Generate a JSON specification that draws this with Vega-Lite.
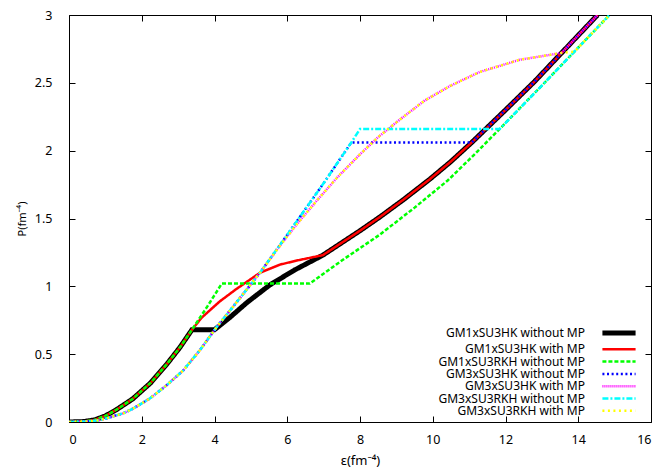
{
  "$schema": "https://vega.github.io/schema/vega-lite/v6.json",
  "width": 582,
  "height": 407,
  "autosize": {"type": "none"},
  "padding": {"left": 69, "top": 15, "right": 13, "bottom": 53},
  "background": "white",
  "config": {
    "view": {"stroke": "black", "strokeWidth": 1},
    "font": "Noto Sans",
    "axis": {"domain": false, "grid": false, "tickColor": "black", "tickSize": -6, "tickWidth": 1, "labelFont": "Noto Sans", "labelFontSize": 12.5, "labelColor": "#000", "titleFont": "Noto Sans", "titleColor": "#000", "titleFontWeight": "normal"},
    "legend": {"labelFont": "Noto Sans", "labelFontSize": 12, "labelColor": "#000", "padding": 0}
  },
  "data": {"values": [
    {"s": "GM1xSU3HK without MP", "e": 0, "p": 0},
    {"s": "GM1xSU3HK without MP", "e": 0.4, "p": 0.003},
    {"s": "GM1xSU3HK without MP", "e": 0.7, "p": 0.015},
    {"s": "GM1xSU3HK without MP", "e": 1, "p": 0.045},
    {"s": "GM1xSU3HK without MP", "e": 1.3, "p": 0.09},
    {"s": "GM1xSU3HK without MP", "e": 1.75, "p": 0.17},
    {"s": "GM1xSU3HK without MP", "e": 2.25, "p": 0.29},
    {"s": "GM1xSU3HK without MP", "e": 2.7, "p": 0.43},
    {"s": "GM1xSU3HK without MP", "e": 3.05, "p": 0.55},
    {"s": "GM1xSU3HK without MP", "e": 3.38, "p": 0.68},
    {"s": "GM1xSU3HK without MP", "e": 4.0, "p": 0.68},
    {"s": "GM1xSU3HK without MP", "e": 4.42, "p": 0.77},
    {"s": "GM1xSU3HK without MP", "e": 4.89, "p": 0.88},
    {"s": "GM1xSU3HK without MP", "e": 5.52, "p": 1.01},
    {"s": "GM1xSU3HK without MP", "e": 6.2, "p": 1.12},
    {"s": "GM1xSU3HK without MP", "e": 6.98, "p": 1.23},
    {"s": "GM1xSU3HK without MP", "e": 8, "p": 1.41},
    {"s": "GM1xSU3HK without MP", "e": 8.54, "p": 1.51},
    {"s": "GM1xSU3HK without MP", "e": 9.2, "p": 1.64},
    {"s": "GM1xSU3HK without MP", "e": 9.92, "p": 1.79},
    {"s": "GM1xSU3HK without MP", "e": 10.5, "p": 1.92},
    {"s": "GM1xSU3HK without MP", "e": 11.07, "p": 2.06},
    {"s": "GM1xSU3HK without MP", "e": 12, "p": 2.30},
    {"s": "GM1xSU3HK without MP", "e": 12.8, "p": 2.51},
    {"s": "GM1xSU3HK without MP", "e": 13.54, "p": 2.72},
    {"s": "GM1xSU3HK without MP", "e": 14.53, "p": 3.0},

    {"s": "GM1xSU3HK with MP", "e": 0, "p": 0},
    {"s": "GM1xSU3HK with MP", "e": 0.4, "p": 0.003},
    {"s": "GM1xSU3HK with MP", "e": 0.7, "p": 0.015},
    {"s": "GM1xSU3HK with MP", "e": 1, "p": 0.045},
    {"s": "GM1xSU3HK with MP", "e": 1.3, "p": 0.09},
    {"s": "GM1xSU3HK with MP", "e": 1.75, "p": 0.17},
    {"s": "GM1xSU3HK with MP", "e": 2.25, "p": 0.29},
    {"s": "GM1xSU3HK with MP", "e": 2.7, "p": 0.43},
    {"s": "GM1xSU3HK with MP", "e": 3.05, "p": 0.55},
    {"s": "GM1xSU3HK with MP", "e": 3.38, "p": 0.68},
    {"s": "GM1xSU3HK with MP", "e": 3.65, "p": 0.77},
    {"s": "GM1xSU3HK with MP", "e": 4.15, "p": 0.89},
    {"s": "GM1xSU3HK with MP", "e": 4.6, "p": 0.98},
    {"s": "GM1xSU3HK with MP", "e": 5.25, "p": 1.10},
    {"s": "GM1xSU3HK with MP", "e": 5.8, "p": 1.16},
    {"s": "GM1xSU3HK with MP", "e": 6.26, "p": 1.19},
    {"s": "GM1xSU3HK with MP", "e": 6.98, "p": 1.23},
    {"s": "GM1xSU3HK with MP", "e": 8, "p": 1.41},
    {"s": "GM1xSU3HK with MP", "e": 8.54, "p": 1.51},
    {"s": "GM1xSU3HK with MP", "e": 9.2, "p": 1.64},
    {"s": "GM1xSU3HK with MP", "e": 9.92, "p": 1.79},
    {"s": "GM1xSU3HK with MP", "e": 10.5, "p": 1.92},
    {"s": "GM1xSU3HK with MP", "e": 11.07, "p": 2.06},
    {"s": "GM1xSU3HK with MP", "e": 12, "p": 2.30},
    {"s": "GM1xSU3HK with MP", "e": 12.8, "p": 2.51},
    {"s": "GM1xSU3HK with MP", "e": 13.54, "p": 2.72},
    {"s": "GM1xSU3HK with MP", "e": 14.53, "p": 3.0},

    {"s": "GM1xSU3RKH without MP", "e": 0, "p": 0},
    {"s": "GM1xSU3RKH without MP", "e": 0.4, "p": 0.003},
    {"s": "GM1xSU3RKH without MP", "e": 0.7, "p": 0.015},
    {"s": "GM1xSU3RKH without MP", "e": 1, "p": 0.045},
    {"s": "GM1xSU3RKH without MP", "e": 1.3, "p": 0.09},
    {"s": "GM1xSU3RKH without MP", "e": 1.75, "p": 0.17},
    {"s": "GM1xSU3RKH without MP", "e": 2.25, "p": 0.29},
    {"s": "GM1xSU3RKH without MP", "e": 2.7, "p": 0.43},
    {"s": "GM1xSU3RKH without MP", "e": 3.05, "p": 0.55},
    {"s": "GM1xSU3RKH without MP", "e": 3.38, "p": 0.68},
    {"s": "GM1xSU3RKH without MP", "e": 3.8, "p": 0.85},
    {"s": "GM1xSU3RKH without MP", "e": 4.2, "p": 1.02},
    {"s": "GM1xSU3RKH without MP", "e": 6.62, "p": 1.02},
    {"s": "GM1xSU3RKH without MP", "e": 7.5, "p": 1.19},
    {"s": "GM1xSU3RKH without MP", "e": 8.54, "p": 1.38},
    {"s": "GM1xSU3RKH without MP", "e": 9.5, "p": 1.58},
    {"s": "GM1xSU3RKH without MP", "e": 10.41, "p": 1.78},
    {"s": "GM1xSU3RKH without MP", "e": 11.1, "p": 1.96},
    {"s": "GM1xSU3RKH without MP", "e": 11.84, "p": 2.16},
    {"s": "GM1xSU3RKH without MP", "e": 13, "p": 2.48},
    {"s": "GM1xSU3RKH without MP", "e": 14, "p": 2.76},
    {"s": "GM1xSU3RKH without MP", "e": 14.86, "p": 3.0},

    {"s": "GM3xSU3HK without MP", "e": 0, "p": 0},
    {"s": "GM3xSU3HK without MP", "e": 0.5, "p": 0.004},
    {"s": "GM3xSU3HK without MP", "e": 0.8, "p": 0.012},
    {"s": "GM3xSU3HK without MP", "e": 1, "p": 0.025},
    {"s": "GM3xSU3HK without MP", "e": 1.5, "p": 0.065},
    {"s": "GM3xSU3HK without MP", "e": 1.77, "p": 0.10},
    {"s": "GM3xSU3HK without MP", "e": 2.23, "p": 0.175},
    {"s": "GM3xSU3HK without MP", "e": 2.68, "p": 0.27},
    {"s": "GM3xSU3HK without MP", "e": 3.14, "p": 0.38},
    {"s": "GM3xSU3HK without MP", "e": 3.6, "p": 0.53},
    {"s": "GM3xSU3HK without MP", "e": 4.06, "p": 0.70},
    {"s": "GM3xSU3HK without MP", "e": 4.6, "p": 0.88},
    {"s": "GM3xSU3HK without MP", "e": 5.25, "p": 1.10},
    {"s": "GM3xSU3HK without MP", "e": 6, "p": 1.38},
    {"s": "GM3xSU3HK without MP", "e": 7, "p": 1.76},
    {"s": "GM3xSU3HK without MP", "e": 7.76, "p": 2.06},
    {"s": "GM3xSU3HK without MP", "e": 11.07, "p": 2.06},
    {"s": "GM3xSU3HK without MP", "e": 12, "p": 2.30},
    {"s": "GM3xSU3HK without MP", "e": 12.8, "p": 2.51},
    {"s": "GM3xSU3HK without MP", "e": 13.54, "p": 2.72},
    {"s": "GM3xSU3HK without MP", "e": 14.53, "p": 3.0},

    {"s": "GM3xSU3HK with MP", "e": 0, "p": 0},
    {"s": "GM3xSU3HK with MP", "e": 0.5, "p": 0.004},
    {"s": "GM3xSU3HK with MP", "e": 0.8, "p": 0.012},
    {"s": "GM3xSU3HK with MP", "e": 1, "p": 0.025},
    {"s": "GM3xSU3HK with MP", "e": 1.5, "p": 0.065},
    {"s": "GM3xSU3HK with MP", "e": 1.77, "p": 0.10},
    {"s": "GM3xSU3HK with MP", "e": 2.23, "p": 0.175},
    {"s": "GM3xSU3HK with MP", "e": 2.68, "p": 0.27},
    {"s": "GM3xSU3HK with MP", "e": 3.14, "p": 0.38},
    {"s": "GM3xSU3HK with MP", "e": 3.6, "p": 0.53},
    {"s": "GM3xSU3HK with MP", "e": 4.06, "p": 0.70},
    {"s": "GM3xSU3HK with MP", "e": 4.6, "p": 0.88},
    {"s": "GM3xSU3HK with MP", "e": 5.25, "p": 1.10},
    {"s": "GM3xSU3HK with MP", "e": 5.8, "p": 1.30},
    {"s": "GM3xSU3HK with MP", "e": 6.3, "p": 1.47},
    {"s": "GM3xSU3HK with MP", "e": 6.84, "p": 1.64},
    {"s": "GM3xSU3HK with MP", "e": 7.4, "p": 1.81},
    {"s": "GM3xSU3HK with MP", "e": 7.99, "p": 1.97},
    {"s": "GM3xSU3HK with MP", "e": 8.5, "p": 2.10},
    {"s": "GM3xSU3HK with MP", "e": 9.1, "p": 2.23},
    {"s": "GM3xSU3HK with MP", "e": 9.78, "p": 2.37},
    {"s": "GM3xSU3HK with MP", "e": 10.5, "p": 2.48},
    {"s": "GM3xSU3HK with MP", "e": 11.29, "p": 2.58},
    {"s": "GM3xSU3HK with MP", "e": 12.39, "p": 2.67},
    {"s": "GM3xSU3HK with MP", "e": 13.54, "p": 2.72},
    {"s": "GM3xSU3HK with MP", "e": 14.53, "p": 3.0},

    {"s": "GM3xSU3RKH without MP", "e": 0, "p": 0},
    {"s": "GM3xSU3RKH without MP", "e": 0.5, "p": 0.004},
    {"s": "GM3xSU3RKH without MP", "e": 0.8, "p": 0.012},
    {"s": "GM3xSU3RKH without MP", "e": 1, "p": 0.025},
    {"s": "GM3xSU3RKH without MP", "e": 1.5, "p": 0.065},
    {"s": "GM3xSU3RKH without MP", "e": 1.77, "p": 0.10},
    {"s": "GM3xSU3RKH without MP", "e": 2.23, "p": 0.175},
    {"s": "GM3xSU3RKH without MP", "e": 2.68, "p": 0.27},
    {"s": "GM3xSU3RKH without MP", "e": 3.14, "p": 0.38},
    {"s": "GM3xSU3RKH without MP", "e": 3.6, "p": 0.53},
    {"s": "GM3xSU3RKH without MP", "e": 4.06, "p": 0.70},
    {"s": "GM3xSU3RKH without MP", "e": 4.6, "p": 0.88},
    {"s": "GM3xSU3RKH without MP", "e": 5.25, "p": 1.10},
    {"s": "GM3xSU3RKH without MP", "e": 6, "p": 1.38},
    {"s": "GM3xSU3RKH without MP", "e": 7, "p": 1.76},
    {"s": "GM3xSU3RKH without MP", "e": 7.76, "p": 2.06},
    {"s": "GM3xSU3RKH without MP", "e": 8.0, "p": 2.16},
    {"s": "GM3xSU3RKH without MP", "e": 11.84, "p": 2.16},
    {"s": "GM3xSU3RKH without MP", "e": 13, "p": 2.48},
    {"s": "GM3xSU3RKH without MP", "e": 14, "p": 2.76},
    {"s": "GM3xSU3RKH without MP", "e": 14.86, "p": 3.0},

    {"s": "GM3xSU3RKH with MP", "e": 0, "p": 0},
    {"s": "GM3xSU3RKH with MP", "e": 0.5, "p": 0.004},
    {"s": "GM3xSU3RKH with MP", "e": 0.8, "p": 0.012},
    {"s": "GM3xSU3RKH with MP", "e": 1, "p": 0.025},
    {"s": "GM3xSU3RKH with MP", "e": 1.5, "p": 0.065},
    {"s": "GM3xSU3RKH with MP", "e": 1.77, "p": 0.10},
    {"s": "GM3xSU3RKH with MP", "e": 2.23, "p": 0.175},
    {"s": "GM3xSU3RKH with MP", "e": 2.68, "p": 0.27},
    {"s": "GM3xSU3RKH with MP", "e": 3.14, "p": 0.38},
    {"s": "GM3xSU3RKH with MP", "e": 3.6, "p": 0.53},
    {"s": "GM3xSU3RKH with MP", "e": 4.06, "p": 0.70},
    {"s": "GM3xSU3RKH with MP", "e": 4.6, "p": 0.88},
    {"s": "GM3xSU3RKH with MP", "e": 5.25, "p": 1.10},
    {"s": "GM3xSU3RKH with MP", "e": 5.8, "p": 1.30},
    {"s": "GM3xSU3RKH with MP", "e": 6.3, "p": 1.47},
    {"s": "GM3xSU3RKH with MP", "e": 6.84, "p": 1.64},
    {"s": "GM3xSU3RKH with MP", "e": 7.4, "p": 1.81},
    {"s": "GM3xSU3RKH with MP", "e": 7.99, "p": 1.97},
    {"s": "GM3xSU3RKH with MP", "e": 8.5, "p": 2.10},
    {"s": "GM3xSU3RKH with MP", "e": 9.1, "p": 2.23},
    {"s": "GM3xSU3RKH with MP", "e": 9.78, "p": 2.37},
    {"s": "GM3xSU3RKH with MP", "e": 10.5, "p": 2.48},
    {"s": "GM3xSU3RKH with MP", "e": 11.29, "p": 2.58},
    {"s": "GM3xSU3RKH with MP", "e": 12.39, "p": 2.67},
    {"s": "GM3xSU3RKH with MP", "e": 13.54, "p": 2.72},
    {"s": "GM3xSU3RKH with MP", "e": 13.9, "p": 2.73},
    {"s": "GM3xSU3RKH with MP", "e": 14.86, "p": 3.0}
  ]},
  "layer": [
    {
      "mark": {"type": "line", "clip": true, "strokeCap": "butt"},
      "encoding": {
        "x": {"field": "e", "type": "quantitative", "scale": {"domain": [0, 16], "nice": false, "zero": false},
              "axis": {"orient": "bottom", "values": [0, 2, 4, 6, 8, 10, 12, 14, 16], "format": "~g", "labelPadding": 17, "title": "ε(fm⁻⁴)", "titleFontSize": 13, "titleX": 291, "titleY": 38, "titleAlign": "center", "titleBaseline": "middle"}},
        "y": {"field": "p", "type": "quantitative", "scale": {"domain": [0, 3], "nice": false, "zero": false},
              "axis": {"orient": "left", "values": [0, 0.5, 1, 1.5, 2, 2.5, 3], "format": "~g", "labelPadding": 23, "title": "P(fm⁻⁴)", "titleFontSize": 11, "titleX": -47, "titleY": 203.5, "titleAngle": -90, "titleAlign": "center", "titleBaseline": "middle"}},
        "color": {"field": "s", "type": "nominal",
                  "scale": {"domain": ["GM1xSU3HK without MP", "GM1xSU3HK with MP", "GM1xSU3RKH without MP", "GM3xSU3HK without MP", "GM3xSU3HK with MP", "GM3xSU3RKH without MP", "GM3xSU3RKH with MP"],
                            "range": ["#000000", "#ff0000", "#00ff00", "#0000ff", "#ff00ff", "#00ffff", "#ffff00"]},
                  "legend": {"title": null, "orient": "none", "legendX": 544, "legendY": 312, "symbolType": "stroke", "symbolSize": 1100, "labelAlign": "right", "labelOffset": -40, "labelLimit": 300, "rowPadding": 0.3,
                             "encode": {"symbols": {"update": {"strokeWidth": {"signal": "datum.label === 'GM1xSU3HK without MP' ? 5 : 2.5"}}}}}},
        "strokeDash": {"field": "s", "type": "nominal",
                  "scale": {"domain": ["GM1xSU3HK without MP", "GM1xSU3HK with MP", "GM1xSU3RKH without MP", "GM3xSU3HK without MP", "GM3xSU3HK with MP", "GM3xSU3RKH without MP", "GM3xSU3RKH with MP"],
                            "range": [[1, 0], [1, 0], [4, 2], [2, 2.6], [1, 1], [6, 2, 2, 2], [2, 3.5]]}},
        "strokeWidth": {"condition": {"test": "datum.s === 'GM1xSU3HK without MP'", "value": 5}, "value": 2.5}
      }
    },
    {
      "mark": {"type": "point", "opacity": 0},
      "encoding": {
        "x": {"field": "e", "type": "quantitative", "axis": {"orient": "top", "values": [0, 2, 4, 6, 8, 10, 12, 14, 16], "labels": false, "title": null}},
        "y": {"field": "p", "type": "quantitative", "axis": {"orient": "right", "values": [0, 0.5, 1, 1.5, 2, 2.5, 3], "labels": false, "title": null}}
      }
    }
  ],
  "resolve": {"axis": {"x": "independent", "y": "independent"}}
}
